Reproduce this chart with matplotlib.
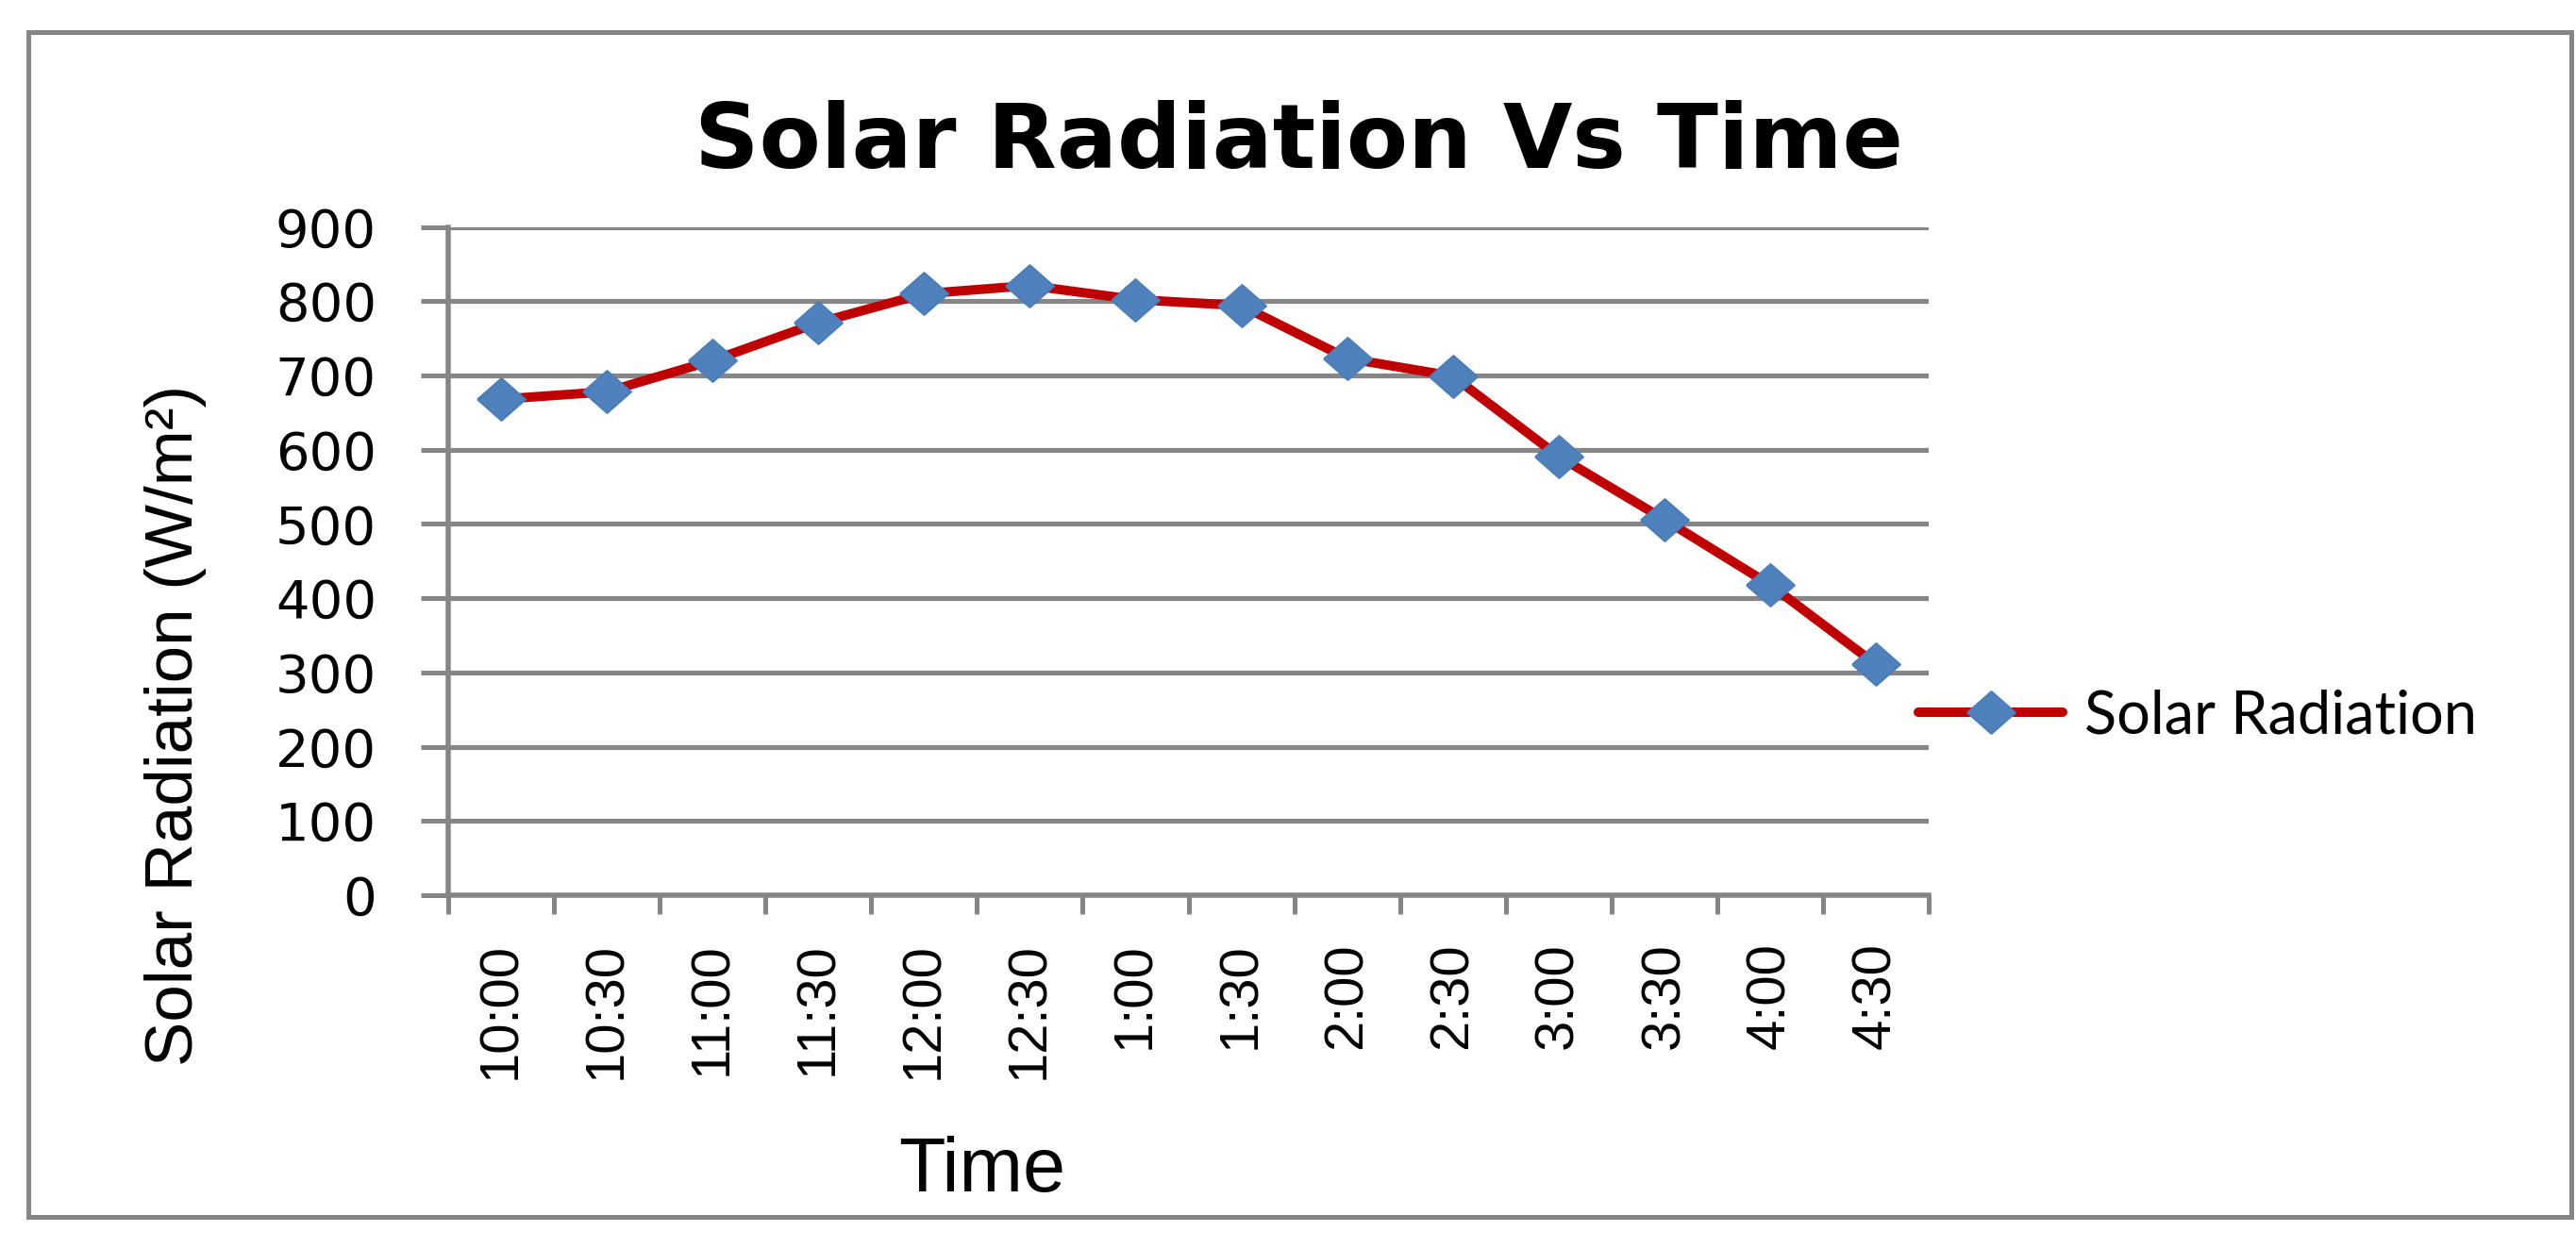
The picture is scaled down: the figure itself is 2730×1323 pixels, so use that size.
import matplotlib
matplotlib.use("Agg")
import matplotlib.pyplot as plt
from matplotlib import font_manager
from matplotlib.font_manager import FontProperties
from matplotlib.patches import Rectangle
from matplotlib.lines import Line2D

# ---- data ----
times = ["10:00", "10:30", "11:00", "11:30", "12:00", "12:30", "1:00",
         "1:30", "2:00", "2:30", "3:00", "3:30", "4:00", "4:30"]
radiation = [668, 678, 720, 771, 810, 821, 802, 794, 723, 699, 591, 506, 418, 311]
y_ticks = [0, 100, 200, 300, 400, 500, 600, 700, 800, 900]
title = "Solar Radiation Vs Time"
series_name = "Solar Radiation"
x_label = "Time"
y_label = "Solar Radiation (W/m\u00b2)"


def has_font(name):
    try:
        font_manager.findfont(FontProperties(family=name), fallback_to_default=False)
        return True
    except Exception:
        return False


narrow = has_font("Liberation Sans Narrow")
NARROW = "Liberation Sans Narrow" if narrow else "Liberation Sans"

GRAY = "#868686"
RED = "#C00000"
BLUE = "#4F81BD"
BLUE_EDGE = "#4A7EBB"

W, H = 2730, 1323
DPI = 100
fig = plt.figure(figsize=(W / DPI, H / DPI), dpi=DPI)
px = 72.0 / DPI  # points per pixel

# outer chart border
fig.patches.append(Rectangle((30 / W, 1 - 1290 / H), (2725 - 30) / W, (1290 - 34) / H,
                             transform=fig.transFigure, fill=False,
                             edgecolor=GRAY, linewidth=5 * px))

left, right = 475 / W, 2044 / W
bottom, top = 1 - 949 / H, 1 - 240.5 / H
ax = fig.add_axes([left, bottom, right - left, top - bottom])

x = list(range(len(times)))
diamond = [(-1.0, 0.0), (0.0, 0.88), (1.0, 0.0), (0.0, -0.88), (-1.0, 0.0)]
MS = 51 * px
line, = ax.plot(x, radiation, color=RED, linewidth=10 * px,
                marker=diamond, markersize=MS, markerfacecolor=BLUE,
                markeredgecolor=BLUE_EDGE, markeredgewidth=2 * px,
                solid_capstyle="round", solid_joinstyle="round",
                label=series_name, zorder=3, clip_on=False)

ax.set_xlim(-0.5, len(times) - 0.5)
ax.set_ylim(0, 900)
ax.set_yticks(y_ticks)
ax.set_yticklabels([str(v) for v in y_ticks])
ax.yaxis.grid(True, color=GRAY, linewidth=5.2 * px)
ax.set_axisbelow(True)

# x: major ticks at category boundaries, labels at centres
ax.set_xticks([i - 0.5 for i in range(len(times) + 1)])
ax.set_xticklabels([])
ax.set_xticks(x, minor=True)
ax.set_xticklabels(times, minor=True, rotation=90,
                   fontfamily=NARROW, fontsize=(66 if narrow else 58) * px)
ax.tick_params(axis="x", which="major", direction="out", length=20 * px,
               width=5 * px, color=GRAY)
ax.tick_params(axis="x", which="minor", length=0, pad=50 * px)
ax.tick_params(axis="y", which="major", direction="out", length=29 * px,
               width=5 * px, color=GRAY, pad=47 * px, labelsize=56 * px)
for lab in ax.get_yticklabels():
    lab.set_fontfamily("DejaVu Sans")

for s in ["top", "right"]:
    ax.spines[s].set_visible(False)
for s in ["left", "bottom"]:
    ax.spines[s].set_color(GRAY)
    ax.spines[s].set_linewidth(5.5 * px)

# title
fig.text(1377 / W, 1 - 178 / H, title, ha="center", va="baseline",
         fontfamily="DejaVu Sans", fontweight="bold", fontsize=95 * px)

# axis titles
fig.text(1041 / W, 1 - 1263 / H, x_label, ha="center", va="baseline",
         fontfamily="Liberation Sans", fontsize=81 * px)
fig.text(186 / W, 1 - 769 / H, y_label, ha="center", va="center", rotation=90,
         fontfamily=NARROW, fontsize=(87 if narrow else 71) * px)

# legend
leg_font = 63 * px
handle = Line2D([], [], color=RED, linewidth=10 * px, marker=diamond,
                markersize=MS, markerfacecolor=BLUE, markeredgecolor=BLUE_EDGE,
                markeredgewidth=2 * px, solid_capstyle="round")
leg = fig.legend([handle], [series_name], loc="center left",
                 bbox_to_anchor=(2033 / W, 1 - 759 / H),
                 bbox_transform=fig.transFigure, frameon=False,
                 handlelength=153 / 63, handletextpad=23 / 63,
                 borderpad=0, borderaxespad=0, numpoints=1,
                 prop=FontProperties(family="Lato", size=leg_font))

fig.savefig("out.png", dpi=DPI, facecolor="white")
